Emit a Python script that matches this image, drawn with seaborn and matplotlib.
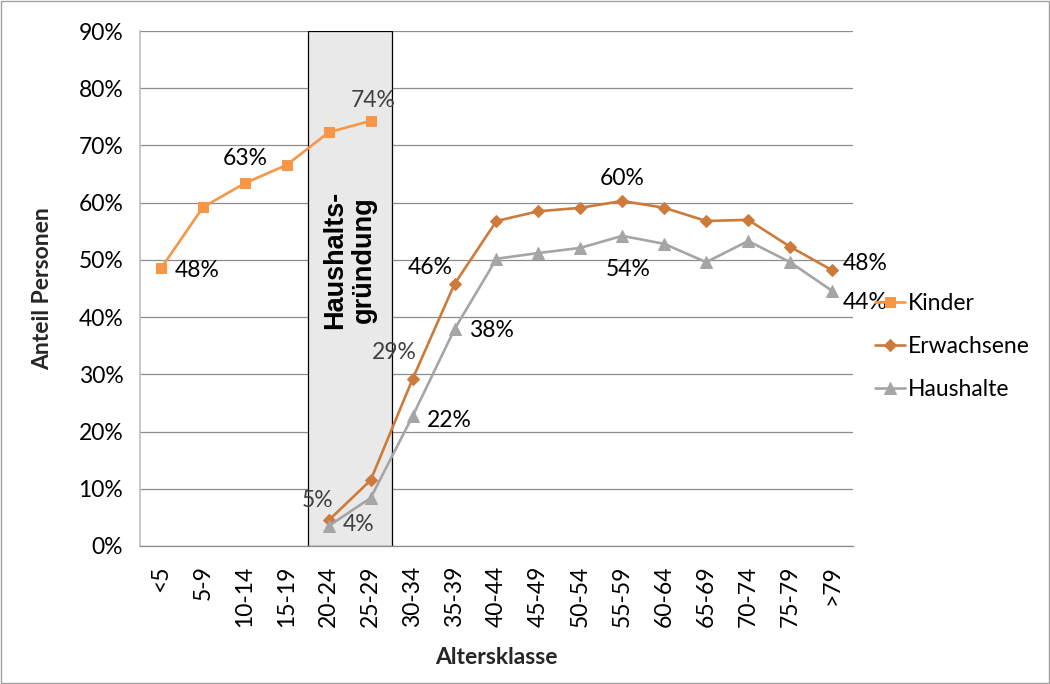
import numpy as np
import pandas as pd
import matplotlib
matplotlib.use("Agg")
import matplotlib.pyplot as plt
import seaborn as sns
from matplotlib.patches import Rectangle
from matplotlib.ticker import FuncFormatter, FixedLocator

categories = ["<5", "5-9", "10-14", "15-19", "20-24", "25-29", "30-34", "35-39",
              "40-44", "45-49", "50-54", "55-59", "60-64", "65-69", "70-74",
              "75-79", ">79"]
kinder = [48.5, 59.2, 63.4, 66.6, 72.3, 74.3] + [np.nan] * 11
erwachsene = [np.nan] * 4 + [4.5, 11.5, 29.2, 45.8, 56.8, 58.5, 59.1, 60.3,
                             59.1, 56.8, 57.0, 52.3, 48.2]
haushalte = [np.nan] * 4 + [3.5, 8.4, 22.7, 37.9, 50.2, 51.2, 52.1, 54.2,
                            52.8, 49.6, 53.3, 49.6, 44.6]
series_names = ["Kinder", "Erwachsene", "Haushalte"]
colors = {"Kinder": "#F79646", "Erwachsene": "#CD7A3A", "Haushalte": "#A5A5A5"}
markers = {"Kinder": "s", "Erwachsene": "D", "Haushalte": "^"}
msizes = {"Kinder": 7, "Erwachsene": 6, "Haushalte": 8}

sns.set_theme(style="white")
plt.rcParams["font.family"] = ["Lato", "DejaVu Sans"]

df = pd.DataFrame({"idx": np.arange(len(categories)), "Kinder": kinder,
                   "Erwachsene": erwachsene, "Haushalte": haushalte})

fig = plt.figure(figsize=(10.5, 6.84), dpi=100)
ax = fig.add_axes([140 / 1050, 1 - 546 / 684, (853 - 140) / 1050, (546 - 31) / 684])

# shaded "Haushaltsgründung" box
ax.add_patch(Rectangle((3.5, 0), 2.0, 90, facecolor="#E9E9E9", edgecolor="#000000",
                       linewidth=0.9, zorder=1.5))
ax.text(4.5, 50, "Haushalts-\ngründung", rotation=90, ha="center", va="center",
        fontsize=19.5, fontweight="bold", family=["Liberation Sans", "DejaVu Sans"],
        color="#000000", zorder=2, linespacing=1.12)

for name in series_names:
    sub = df[["idx", name]].dropna()
    sns.lineplot(data=sub, x="idx", y=name, ax=ax, color=colors[name],
                 marker=markers[name], markersize=msizes[name],
                 markeredgecolor=colors[name], linewidth=1.9, label=name,
                 zorder=3)

ax.set_xlim(-0.5, 16.5)
ax.set_ylim(0, 90)
ax.yaxis.set_major_locator(FixedLocator(np.arange(0, 91, 10)))
ax.yaxis.set_major_formatter(FuncFormatter(lambda v, p: f"{int(v)}%"))
ax.grid(axis="y", color="#8C8C8C", linewidth=0.9)
ax.set_axisbelow(True)
ax.set_xticks(np.arange(len(categories)))
ax.set_xticklabels(categories, rotation=90, fontsize=16.5, color="#000000")
ax.tick_params(axis="x", length=0, pad=14)
ax.set_xticks(np.arange(-0.5, 17, 1), minor=True)
ax.tick_params(axis="x", which="minor", length=7, color="#8C8C8C", width=0.9, direction="out")
ax.tick_params(axis="y", labelsize=16.5, length=7, width=0.9, color="#8C8C8C",
               direction="out", pad=5, labelcolor="#000000")
for s in ["top", "right"]:
    ax.spines[s].set_visible(False)
ax.spines["left"].set_color("#BDBDBD")
ax.spines["bottom"].set_color("#8C8C8C")
ax.spines["left"].set_linewidth(1.2)
ax.spines["bottom"].set_linewidth(0.9)

ax.set_xlabel("Altersklasse", fontsize=16.5, fontweight="bold", labelpad=14)
ax.set_ylabel("Anteil Personen", fontsize=16.5, fontweight="bold", labelpad=18)

# data labels
dk = "#404040"
def lab(x, y, s, ha="center", color="#000000"):
    ax.text(x, y, s, ha=ha, va="center", fontsize=16.5, color=color, zorder=4)

lab(0.33, 48.2, "48%", ha="left")
lab(2, 67.8, "63%")
lab(5.05, 77.9, "74%", color=dk)
lab(4.1, 8.0, "5%", ha="right", color=dk)
lab(6.1, 33.9, "29%", ha="right", color=dk)
lab(6.95, 48.6, "46%", ha="right")
lab(11, 64.3, "60%")
lab(16.26, 49.3, "48%", ha="left")
lab(4.33, 3.8, "4%", ha="left", color=dk)
lab(6.35, 22.0, "22%", ha="left")
lab(7.35, 37.7, "38%", ha="left")
lab(11.15, 48.4, "54%")
lab(16.26, 42.6, "44%", ha="left")

leg = ax.legend(loc="center left", bbox_to_anchor=(1.031, 0.387), frameon=False,
                fontsize=16.5, handlelength=1.3, handletextpad=0.12,
                labelspacing=0.95, borderaxespad=0, borderpad=0)
for t in leg.get_texts():
    t.set_color("#000000")

fig.patches.append(Rectangle((0.001, 0.001), 0.998, 0.998, transform=fig.transFigure,
                             fill=False, edgecolor="#A0A0A0", linewidth=1))

fig.savefig("out.png", dpi=100)
